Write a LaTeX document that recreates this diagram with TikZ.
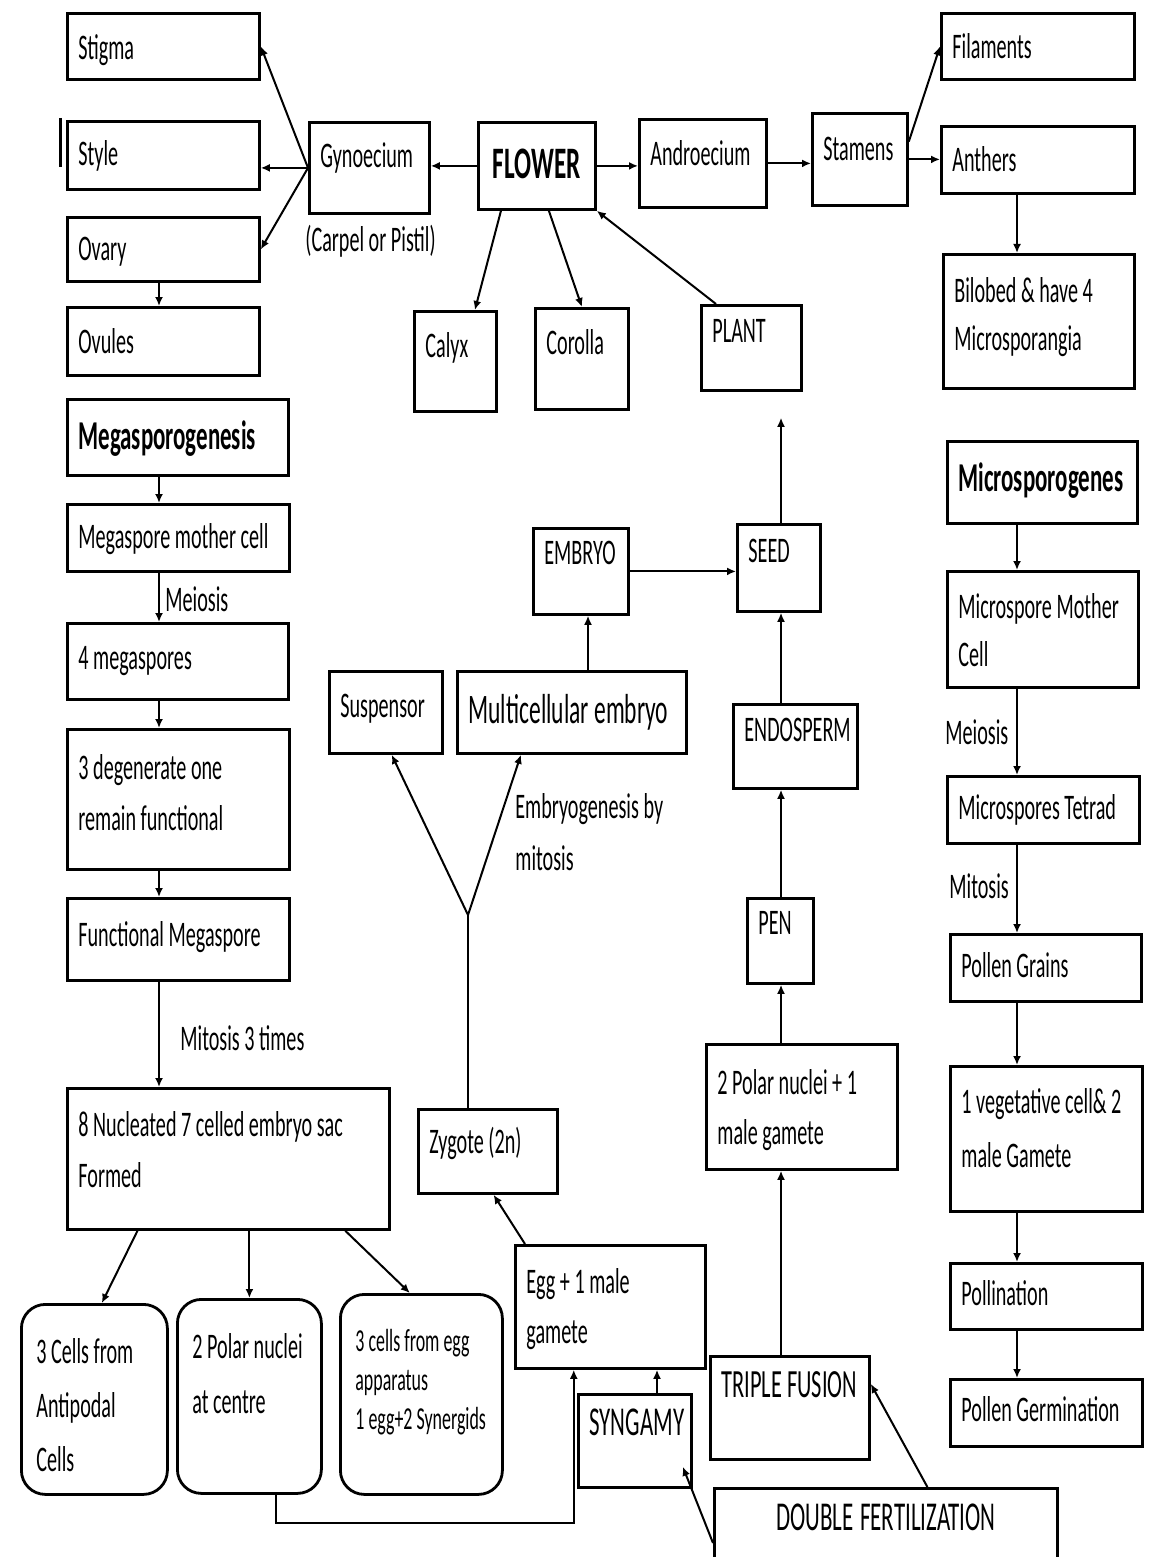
\documentclass[tikz,border=0pt]{standalone}
\usepackage{fontspec}
\setmainfont{Carlito}[FakeStretch=0.56]
\usetikzlibrary{calc}
\usetikzlibrary{arrows.meta}
\newlength{\bxpad}
\setlength{\bxpad}{5.5pt}
% natural word spaces, no hyphens
\newcommand{\plain}{\spaceskip=0pt\xspaceskip=0pt\hyphenpenalty=10000\exhyphenpenalty=10000\relax}
% box from (x1,y1) to (x2,y2) in pixels, first baseline at y=#7
\newcommand{\boxnode}[8][]{%
  \pgfmathsetlengthmacro\bxw{(#5-#3)*0.5pt-2*\bxpad}%
  \pgfmathsetlengthmacro\bxh{(#7-#4)*0.5pt}%
  \pgfmathsetlengthmacro\bxd{(#6-#7)*0.5pt}%
  \node[box,inner xsep=\bxpad,text width=\bxw,text height=\bxh,text depth=\bxd,#1] (#2) at (#3,#4) {\plain #8};}
\tikzset{
  box/.style={draw,line width=1.4pt,anchor=north west,inner ysep=0pt,align=left,
    font=\fontsize{18}{25.5}\selectfont},
  soft/.style={rounded corners=12pt},
  lbl/.style={anchor=base west,inner sep=0pt,align=left,font=\fontsize{18}{26}\selectfont},
  arr/.style={line width=1pt,-{Latex[length=4.5pt,width=4pt]}},
  link/.style={line width=1pt},
  big/.style={font=\fontsize{20.5}{26}\selectfont},
  head/.style={font=\bfseries\fontsize{20.5}{26}\selectfont},
}
\begin{document}
\begin{tikzpicture}[x=0.5pt,y=-0.5pt]
  \useasboundingbox (0,0) rectangle (1156,1557);
  \fill[white] (0,0) rectangle (1156,1557);
  \coordinate (lcol) at (159,0);
  \coordinate (rcol) at (1017,0);
  \coordinate (mcol) at (781,0);
  \coordinate (ecol) at (588,0);
  \coordinate (scol) at (657,0);
  \coordinate (fork) at (468,915);
  % flower and its parts
  \boxnode{stigma}{66}{12}{258}{78}{58}{Stigma}
  \boxnode{style}{66}{120}{258}{188}{164}{Style}
  \boxnode{ovary}{66}{216}{258}{280}{259}{Ovary}
  \boxnode{ovules}{66}{306}{258}{374}{352}{Ovules}
  \boxnode{gyn}{308}{121}{428}{212}{166}{Gynoecium}
  \boxnode[align=center,font=\bfseries\fontsize{22.5}{26}\selectfont]{flower}{477}{121}{594}{208}{177}{FLOWER}
  \boxnode{andro}{638}{118}{765}{206}{164}{Androecium}
  \boxnode{stamens}{811}{112}{906}{204}{159}{Stamens}
  \boxnode{filam}{940}{12}{1133}{78}{57}{Filaments}
  \boxnode{anthers}{940}{125}{1133}{192}{170}{Anthers}
  \boxnode[font=\fontsize{18}{24}\selectfont]{bilobed}{942}{253}{1133}{387}{301}{Bilobed \& have 4\\Microsporangia}
  \boxnode{calyx}{413}{310}{495}{410}{356}{Calyx}
  \boxnode{corolla}{534}{307}{627}{408}{353}{Corolla}
  \boxnode{plant}{700}{304}{800}{389}{341}{PLANT}
  \node[lbl] (carpel) at (305,252) {(Carpel or Pistil)};
  \draw[line width=1.5pt] (60,118) -- (60,167);
  \draw[arr] (gyn.west) -- (stigma.east);
  \draw[arr] (gyn.west) -- (gyn.west -| style.east);
  \draw[arr] (gyn.west) -- (ovary.east);
  \draw[arr] (ovary.south -| lcol) -- (ovules.north -| lcol);
  \draw[arr] (flower.west) -- (flower.west -| gyn.east);
  \draw[arr] (flower.east) -- (flower.east -| andro.west);
  \draw[arr] (andro.east) -- (andro.east -| stamens.west);
  \draw[arr] (stamens.20) -- (filam.west);
  \draw[arr] (stamens.east) -- (stamens.east -| anthers.west);
  \draw[arr] (anthers.south -| rcol) -- (bilobed.north -| rcol);
  \draw[arr] ($(flower.south west)!0.2!(flower.south east)$) -- ($(calyx.north west)!0.73!(calyx.north east)$);
  \draw[arr] ($(flower.south west)!0.6!(flower.south east)$) -- (corolla.north);
  \draw[arr] ($(plant.north west)+(16,0)$) -- (flower.south east);
  % megasporogenesis
  \boxnode[head]{megasp}{66}{398}{287}{474}{448}{Megasporogenesis}
  \boxnode{mmc}{66}{503}{288}{570}{547}{Megaspore mother cell}
  \boxnode{four}{66}{622}{287}{698}{668}{4 megaspores}
  \boxnode{degen}{66}{728}{288}{868}{778}{3 degenerate one\\remain functional}
  \boxnode{fmeg}{66}{897}{288}{979}{945}{Functional Megaspore}
  \boxnode{eightn}{66}{1087}{388}{1228}{1135}{8 Nucleated 7 celled embryo sac\\Formed}
  \setlength{\bxpad}{7.5pt}
  \boxnode[soft,font=\fontsize{18}{27}\selectfont]{antip}{20}{1303}{166}{1493}{1362}{3 Cells from\\Antipodal\\Cells}
  \boxnode[soft,font=\fontsize{18}{27.5}\selectfont]{polar}{176}{1298}{320}{1492}{1357}{2 Polar nuclei\\at centre}
  \boxnode[soft,font=\fontsize{16}{19.5}\selectfont]{eggapp}{339}{1293}{501}{1493}{1350}{3 cells from egg\\apparatus\\1 egg+2 Synergids}
  \setlength{\bxpad}{5.5pt}
  \node[lbl] (meiol) at (165,611) {Meiosis};
  \node[lbl] (mito3) at (180,1050) {Mitosis 3 times};
  \draw[arr] (megasp.south -| lcol) -- (mmc.north -| lcol);
  \draw[arr] (mmc.south -| lcol) -- (four.north -| lcol);
  \draw[arr] (four.south -| lcol) -- (degen.north -| lcol);
  \draw[arr] (degen.south -| lcol) -- (fmeg.north -| lcol);
  \draw[arr] (fmeg.south -| lcol) -- (eightn.north -| lcol);
  \draw[arr] ($(eightn.south west)!0.22!(eightn.south east)$) -- ($(antip.north west)!0.55!(antip.north east)$);
  \draw[arr] (polar.north |- eightn.south) -- (polar.north);
  \draw[arr] ($(eightn.south west)!0.86!(eightn.south east)$) -- ($(eggapp.north west)!0.43!(eggapp.north east)$);
  % embryo, seed and fertilization
  \boxnode{susp}{328}{670}{441}{752}{716}{Suspensor}
  \boxnode[font=\fontsize{21}{26}\selectfont]{multi}{456}{670}{685}{752}{722}{Multicellular embryo}
  \boxnode{embryo}{532}{527}{627}{613}{563}{EMBRYO}
  \boxnode{seed}{736}{523}{819}{610}{561}{SEED}
  \boxnode{endo}{732}{703}{856}{787}{740}{ENDOSPERM}
  \boxnode{pen}{746}{897}{812}{982}{933}{PEN}
  \boxnode[font=\fontsize{18}{25}\selectfont]{polartwo}{705}{1043}{896}{1168}{1093}{2 Polar nuclei + 1\\male gamete}
  \boxnode{zygote}{417}{1108}{556}{1192}{1152}{Zygote (2n)}
  \boxnode[font=\fontsize{18}{25}\selectfont]{egg}{514}{1244}{704}{1367}{1292}{Egg + 1 male\\gamete}
  \boxnode[big]{syngamy}{577}{1393}{690}{1486}{1434}{SYNGAMY}
  \boxnode[font=\fontsize{20}{26}\selectfont]{triple}{709}{1355}{868}{1458}{1396}{TRIPLE~FUSION}
  \boxnode[big,align=center]{double}{713}{1487}{1056}{1580}{1529}{DOUBLE FERTILIZATION}
  \node[lbl,text width=90pt] (embgen) at (515,818) {\plain Embryogenesis by\\mitosis};
  \draw[link] (zygote.north -| fork) -- (fork);
  \draw[arr] (fork) -- ($(susp.south west)!0.55!(susp.south east)$);
  \draw[arr] (fork) -- ($(multi.south west)!0.28!(multi.south east)$);
  \draw[arr] (multi.north -| ecol) -- (embryo.south -| ecol);
  \draw[arr] (embryo.east) -- (embryo.east -| seed.west);
  \draw[arr,shorten >=13pt] (seed.north -| mcol) -- (plant.south -| mcol);
  \draw[arr] (endo.north -| mcol) -- (seed.south -| mcol);
  \draw[arr] (pen.north -| mcol) -- (endo.south -| mcol);
  \draw[arr] (polartwo.north -| mcol) -- (pen.south -| mcol);
  \draw[arr] (triple.north -| mcol) -- (polartwo.south -| mcol);
  \draw[arr] ($(egg.north west)+(11,0)$) -- ($(zygote.south west)!0.54!(zygote.south east)$);
  \draw[arr] (syngamy.north -| scol) -- (egg.south -| scol);
  \draw[arr] ($(polar.south west)!0.68!(polar.south east)$) -- ++(0,28) -| ($(egg.south west)!0.31!(egg.south east)$);
  \draw[arr] ($(double.north west)+(0,56)$) -- ($(syngamy.south east)+(-10,-22)$);
  \draw[arr] ($(double.north west)!0.62!(double.north east)$) -- ($(triple.east)+(0,-24)$);
  % microsporogenesis
  \boxnode[head]{micro}{946}{440}{1136}{522}{490}{Microsporogenes}
  \boxnode[font=\fontsize{18}{24}\selectfont]{micmc}{946}{570}{1137}{686}{617}{Microspore Mother\\Cell}
  \boxnode{tetrad}{946}{775}{1138}{842}{818}{Microspores Tetrad}
  \boxnode{grains}{949}{933}{1140}{1000}{976}{Pollen Grains}
  \boxnode[font=\fontsize{18}{27}\selectfont]{veg}{949}{1065}{1141}{1210}{1112}{1 vegetative cell\& 2\\male Gamete}
  \boxnode{pollin}{949}{1262}{1141}{1328}{1304}{Pollination}
  \boxnode{germ}{949}{1378}{1141}{1445}{1420}{Pollen Germination}
  \node[lbl] (meior) at (945,744) {Meiosis};
  \node[lbl] (mitor) at (949,898) {Mitosis};
  \draw[arr] (micro.south -| rcol) -- (micmc.north -| rcol);
  \draw[arr] (micmc.south -| rcol) -- (tetrad.north -| rcol);
  \draw[arr] (tetrad.south -| rcol) -- (grains.north -| rcol);
  \draw[arr] (grains.south -| rcol) -- (veg.north -| rcol);
  \draw[arr] (veg.south -| rcol) -- (pollin.north -| rcol);
  \draw[arr] (pollin.south -| rcol) -- (germ.north -| rcol);
\end{tikzpicture}
\end{document}
